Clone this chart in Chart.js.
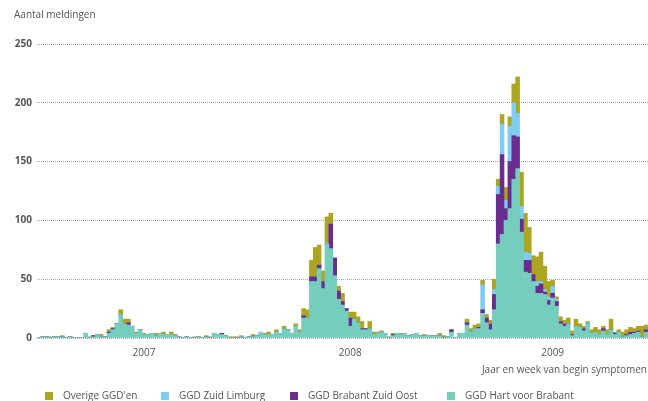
<!DOCTYPE html>
<html><head><meta charset="utf-8">
<script src="https://cdn.jsdelivr.net/npm/chart.js@4"></script>
<style>html,body{margin:0;padding:0;background:#fff;overflow:hidden}#wrap{width:648px;height:401px;position:relative}</style>
</head><body><div id="wrap"><canvas id="c" width="648" height="401"></canvas></div>
<script>
const YEARS = ['2007', '2008', '2009'];
const WEEKS_PER_YEAR = [52, 52, 53];
const YEAR_TICK_WEEK = [28, 29, 29];
const Y_TICKS = [0, 50, 100, 150, 200, 250];
const SERIES_NAMES = ["Overige GGD'en", 'GGD Zuid Limburg', 'GGD Brabant Zuid Oost', 'GGD Hart voor Brabant'];
const Y_TITLE = 'Aantal meldingen';
const X_TITLE = 'Jaar en week van begin symptomen';

const hartVoorBrabant = [
  0,1,1,0,1,1,1,0,1,0,
  0,0,4,0,1,3,1,1,4,7,
  12,20,12,11,10,4,7,3,3,4,
  2,4,3,3,3,2,1,0,1,0,
  0,1,0,1,0,4,3,3,2,0,
  0,0,1,0,1,1,2,3,3,3,
  3,5,4,8,7,4,10,5,17,17,
  48,48,59,42,80,76,53,33,28,23,
  10,16,13,7,7,8,3,4,5,4,
  0,2,4,3,4,2,3,4,2,2,
  2,2,2,2,0,1,5,0,4,4,
  11,5,8,8,21,13,7,24,80,88,
  100,110,135,144,90,56,55,48,38,38,
  37,28,34,27,12,10,12,2,10,9,
  6,12,4,5,3,6,3,7,3,5,
  1,2,3,4,5,1,5
];
const brabantZuidOost = [
  0,0,0,0,0,0,0,0,0,0,
  0,0,0,0,1,0,0,0,1,1,
  0,0,0,2,0,0,0,0,0,0,
  0,0,0,0,0,0,0,0,0,0,
  0,0,0,0,0,0,0,1,0,0,
  0,0,0,0,0,0,0,0,0,0,
  0,0,0,0,0,0,0,0,2,0,
  4,4,3,6,0,21,15,7,3,2,
  7,0,0,1,1,0,0,0,0,0,
  0,1,0,0,0,0,0,0,0,0,
  0,0,0,0,0,0,2,0,0,0,
  2,0,0,1,3,4,5,13,42,68,
  10,40,37,27,11,10,11,6,6,8,
  2,4,4,4,2,2,0,1,0,0,
  2,0,0,0,0,2,0,0,1,0,
  0,1,2,1,1,0,2
];
const zuidLimburg = [
  0,0,0,0,0,0,0,0,0,0,
  0,0,0,0,0,0,0,0,0,0,
  0,0,0,0,0,0,0,0,0,0,
  0,0,0,0,0,0,0,0,0,0,
  0,0,0,0,0,0,0,0,0,0,
  0,0,0,0,0,0,0,2,0,0,
  0,0,0,0,0,0,0,0,0,0,
  0,0,0,0,1,0,0,0,0,0,
  0,0,0,0,0,0,0,0,0,0,
  0,0,0,0,0,0,0,0,0,0,
  0,0,0,0,0,0,0,0,0,0,
  0,0,0,0,21,0,0,4,7,26,
  7,30,28,20,11,7,6,0,4,2,
  2,3,6,2,0,0,0,0,0,0,
  0,1,0,0,0,0,0,0,0,0,
  0,0,0,0,0,0,0
];
const overigeGGDen = [
  0,0,0,1,0,0,1,0,0,0,
  0,0,0,1,0,0,2,0,2,1,
  0,4,4,3,0,1,0,1,0,0,
  2,0,2,0,2,1,0,0,0,0,
  1,0,0,1,1,0,0,0,0,1,
  1,1,1,0,0,2,0,0,1,2,
  0,2,0,2,0,0,2,2,6,7,
  14,25,17,9,22,9,0,4,7,0,
  5,6,5,6,0,6,2,1,1,0,
  1,1,0,1,0,0,0,0,0,1,
  0,0,0,2,2,0,0,0,0,0,
  3,3,3,3,4,3,3,9,6,8,
  11,8,16,31,29,33,22,16,21,25,
  20,13,5,2,4,3,5,3,6,3,
  2,1,3,4,4,2,4,9,1,2,
  4,4,4,3,4,9,4
];

const COLORS = { overig: '#aba51f', zl: '#7ecdf0', bzo: '#6a2c8f', hart: '#75cdbe' };
const FONT = '"Open Sans", "Noto Sans", sans-serif';

// categories: year-week
const categories = [];
const tickMap = {};
YEARS.forEach((y, yi) => {
  for (let w = 1; w <= WEEKS_PER_YEAR[yi]; w++) {
    if (w === YEAR_TICK_WEEK[yi]) tickMap[categories.length] = y;
    categories.push(y + '-' + String(w).padStart(2, '0'));
  }
});

const legendItems = [
  { text: SERIES_NAMES[0], color: COLORS.overig, x: 45 },
  { text: SERIES_NAMES[1], color: COLORS.zl, x: 161 },
  { text: SERIES_NAMES[2], color: COLORS.bzo, x: 290 },
  { text: SERIES_NAMES[3], color: COLORS.hart, x: 447 }
];

const textPlugin = {
  id: 'texts',
  afterDraw(chart) {
    const ctx = chart.ctx;
    ctx.save();
    ctx.fillStyle = '#555';
    ctx.font = '10px ' + FONT;
    ctx.textBaseline = 'middle';
    ctx.textAlign = 'left';
    ctx.fillText(Y_TITLE, 14, 15);
    ctx.textAlign = 'right';
    ctx.fillText(X_TITLE, 647, 370);
    ctx.textAlign = 'left';
    legendItems.forEach(it => {
      ctx.fillStyle = it.color;
      ctx.fillRect(it.x, 392, 8, 8);
      ctx.fillStyle = '#555';
      ctx.fillText(it.text, it.x + 18, 396);
    });
    ctx.restore();
  }
};

new Chart(document.getElementById('c'), {
  type: 'bar',
  data: {
    labels: categories,
    datasets: [
      { label: SERIES_NAMES[3], data: hartVoorBrabant, backgroundColor: COLORS.hart },
      { label: SERIES_NAMES[2], data: brabantZuidOost, backgroundColor: COLORS.bzo },
      { label: SERIES_NAMES[1], data: zuidLimburg, backgroundColor: COLORS.zl },
      { label: SERIES_NAMES[0], data: overigeGGDen, backgroundColor: COLORS.overig }
    ]
  },
  options: {
    responsive: false,
    devicePixelRatio: 1,
    animation: false,
    layout: { padding: { top: 44, left: 0, right: 0, bottom: 0 } },
    datasets: { bar: { barPercentage: 1, categoryPercentage: 1, borderWidth: 0, borderSkipped: false } },
    plugins: { legend: { display: false }, tooltip: { enabled: false } },
    scales: {
      x: {
        stacked: true,
        grid: { display: false, drawTicks: true, tickLength: 9 },
        border: { display: false },
        ticks: {
          autoSkip: false, maxRotation: 0, minRotation: 0, padding: 0,
          color: '#555', font: { family: FONT, size: 10 },
          callback: (v, i) => tickMap[i] || ''
        },
        afterFit: s => { s.height = 63; s.paddingRight = 0; s.paddingLeft = 0; }
      },
      y: {
        stacked: true,
        min: 0, max: 250,
        afterBuildTicks: s => { s.ticks = Y_TICKS.map(v => ({ value: v })); },
        grid: { color: '#a8a8a8', lineWidth: 1, drawTicks: false },
        border: { display: false, dash: [1, 1] },
        ticks: { padding: 5, color: '#555', font: { family: FONT, size: 10, weight: 'bold' } },
        afterFit: s => { s.width = 37; }
      }
    }
  },
  plugins: [textPlugin]
});
</script>
</body></html>
